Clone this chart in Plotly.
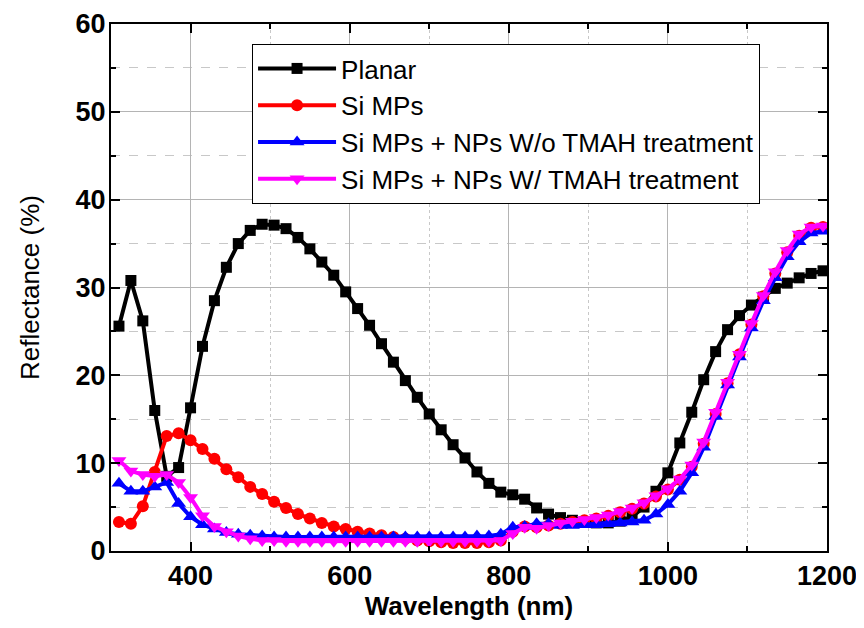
import plotly.graph_objects as go

wavelength = [310, 325, 340, 355, 370, 385, 400, 415, 430, 445, 460, 475, 490, 505, 520,
              535, 550, 565, 580, 595, 610, 625, 640, 655, 670, 685, 700, 715, 730, 745,
              760, 775, 790, 805, 820, 835, 850, 865, 880, 895, 910, 925, 940, 955, 970,
              985, 1000, 1015, 1030, 1045, 1060, 1075, 1090, 1105, 1120, 1135, 1150, 1165, 1180, 1195]

planar = [25.6, 30.8, 26.2, 16.0, 8.5, 9.5, 16.3, 23.3, 28.5, 32.3, 35.0, 36.5, 37.2, 37.1, 36.7,
          35.7, 34.4, 32.9, 31.4, 29.5, 27.6, 25.7, 23.6, 21.5, 19.4, 17.5, 15.6, 13.8, 12.1, 10.6,
          9.0, 7.7, 6.7, 6.4, 5.9, 4.9, 4.2, 3.8, 3.5, 3.3, 3.2, 3.2, 3.4, 3.9, 5.0,
          6.8, 8.9, 12.3, 15.8, 19.5, 22.7, 25.2, 26.8, 28.0, 28.9, 29.9, 30.5, 31.1, 31.6, 31.9]

si_mps = [3.3, 3.1, 5.1, 9.0, 13.1, 13.4, 12.6, 11.6, 10.5, 9.3, 8.4, 7.3, 6.5, 5.6, 4.9,
          4.2, 3.7, 3.2, 2.8, 2.5, 2.2, 2.0, 1.8, 1.6, 1.4, 1.2, 1.1, 1.0, 0.9, 0.9,
          0.9, 1.0, 1.2, 2.2, 2.8, 2.7, 2.9, 3.1, 3.3, 3.5, 3.7, 4.0, 4.4, 4.8, 5.4,
          6.2, 7.0, 8.1, 9.6, 12.2, 15.6, 19.1, 22.4, 25.8, 29.0, 31.6, 34.0, 35.9, 36.8, 36.9]

np_wo_tmah = [7.7, 6.8, 6.8, 7.3, 7.8, 5.4, 3.9, 3.0, 2.5, 2.1, 1.9, 1.8, 1.7, 1.6, 1.6,
              1.6, 1.6, 1.6, 1.6, 1.6, 1.6, 1.6, 1.6, 1.6, 1.6, 1.6, 1.6, 1.6, 1.6, 1.6,
              1.7, 1.7, 1.9, 2.7, 2.8, 3.1, 3.1, 2.9, 2.9, 3.0, 3.0, 3.1, 3.2, 3.3, 3.5,
              4.2, 5.3, 6.8, 8.9, 11.8, 15.3, 18.9, 22.1, 25.4, 28.5, 31.1, 33.5, 35.2, 36.2, 36.4]

np_w_tmah = [10.3, 9.1, 8.7, 8.5, 8.7, 7.8, 6.1, 4.0, 2.8, 2.2, 1.7, 1.4, 1.2, 1.2, 1.1,
             1.1, 1.1, 1.1, 1.1, 1.1, 1.1, 1.1, 1.1, 1.1, 1.1, 1.1, 1.1, 1.1, 1.1, 1.1,
             1.1, 1.1, 1.2, 2.0, 2.7, 2.6, 2.9, 3.2, 3.4, 3.6, 3.8, 4.1, 4.5, 4.9, 5.5,
             6.3, 7.1, 8.2, 9.8, 12.4, 15.8, 19.2, 22.4, 25.9, 29.1, 31.8, 34.2, 36.1, 36.9, 37.0]

series = [
    ("Planar", planar, "#000000", "square", 11),
    ("Si MPs", si_mps, "#ff0000", "circle", 12),
    ("Si MPs + NPs W/o TMAH treatment", np_wo_tmah, "#0000ff", "triangle-up", 13),
    ("Si MPs + NPs W/ TMAH treatment", np_w_tmah, "#ff00ff", "triangle-down", 13),
]

fig = go.Figure()
for name, vals, color, sym, size in series:
    fig.add_trace(go.Scatter(
        x=wavelength, y=vals, name=name, mode="lines+markers",
        line=dict(color=color, width=4),
        marker=dict(symbol=sym, size=size, color=color, line=dict(width=0)),
    ))

font_family = "Liberation Sans, Arial, sans-serif"

axis_common = dict(
    showline=True, linecolor="black", linewidth=2, mirror="allticks",
    ticks="inside", ticklen=9, tickwidth=2, tickcolor="black",
    showgrid=True, gridcolor="#b4b4b4", gridwidth=1,
    zeroline=False, automargin=False,
    tickfont=dict(family=font_family, size=27, color="black", weight="bold"),
)

# page body adds an 8px offset; figure sized/margined so the plot area lands at 111..827 x 24..551
fig.update_layout(
    width=856, height=620,
    margin=dict(l=103, r=37, t=16, b=77),
    plot_bgcolor="white", paper_bgcolor="white",
    font=dict(family=font_family, color="black"),
    legend=dict(
        x=0.197, y=0.962, xanchor="left", yanchor="top",
        bgcolor="white", bordercolor="black", borderwidth=1,
        font=dict(family=font_family, size=26, color="black"),
        tracegroupgap=0, itemwidth=78,
    ),
    showlegend=True,
)

fig.update_xaxes(
    range=[300, 1200], dtick=200, tick0=0,
    minor=dict(dtick=100, ticks="inside", ticklen=5, tickwidth=1.5, tickcolor="black",
               showgrid=True, gridcolor="#c8c8c8", griddash="dot", gridwidth=1),
    title=dict(text="Wavelength (nm)", standoff=4,
               font=dict(family=font_family, size=26, color="black", weight="bold")),
    ticklabelstandoff=0,
    **axis_common,
)
fig.update_yaxes(
    range=[0, 60], dtick=10, tick0=0,
    minor=dict(dtick=5, ticks="inside", ticklen=5, tickwidth=1.5, tickcolor="black",
               showgrid=True, gridcolor="#c8c8c8", griddash="dash", gridwidth=1),
    title=dict(text="Reflectance (%)", standoff=28,
               font=dict(family=font_family, size=26, color="black")),
    ticklabelstandoff=-2,
    **axis_common,
)

fig.write_html("out.html")
